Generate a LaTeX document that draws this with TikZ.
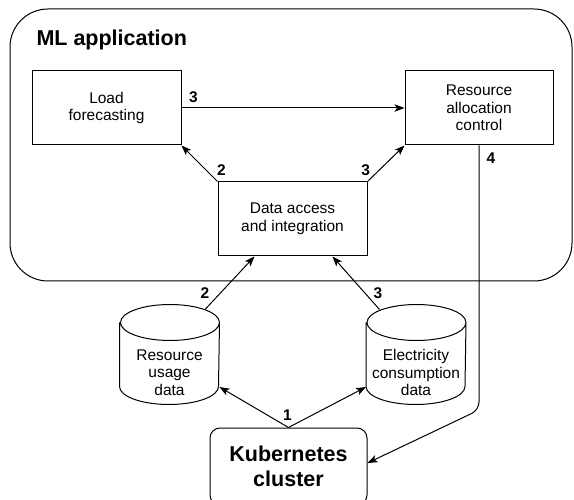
\documentclass[tikz,border=0pt]{standalone}
\usepackage{fontspec}
\setmainfont{Liberation Sans}
\usepackage{tikz}
\usetikzlibrary{arrows.meta,positioning}

\begin{document}
\begin{tikzpicture}[x=1pt, y=1pt, line width=1pt, >={Stealth[length=10pt,width=7.5pt,inset=2.5pt]},
    box/.style={rectangle, draw, align=center, minimum width=149pt, minimum height=74pt, inner sep=2pt, font=\fontsize{15.5}{17.5}\selectfont},
    db/.style={rectangle, align=center, minimum width=99pt, minimum height=63pt, inner sep=0pt, font=\fontsize{15.5}{17.5}\selectfont},
    num/.style={inner sep=0pt, font=\bfseries\fontsize{15.5}{17.5}\selectfont}]
    \useasboundingbox (0,0) rectangle (574,499);

    \node (app) [draw, rounded corners=38pt, minimum width=562pt, minimum height=272pt] at (291,354) {};
    \node (title) [anchor=base west, inner sep=0pt, font=\bfseries\fontsize{21.5}{25}\selectfont] at (36,453) {ML application};
    \node (load) [box] at (106.5,391) {Load \\ forecasting};
    \node (alloc) [box, minimum width=148pt, right=223pt of load] {Resource \\ allocation \\ control};
    \node (data) [box] at (292.5,280) {Data access \\ and integration};
    \node (ruse) [db] at (169.5,126.5) {Resource \\ usage \\ data};
    \node (elec) [db] at (416,126.5) {Electricity \\ consumption \\ data};
    \node (kube) [draw, rounded corners=10pt, minimum width=157pt, minimum height=77pt, align=center, font=\bfseries\fontsize{21.5}{24.5}\selectfont] at (288.5,32.5) {Kubernetes \\ cluster};

    % database outlines
    \foreach \store in {ruse, elec}
        \draw ([yshift=18pt]\store.north west) -- ([yshift=18pt]\store.south west)
            arc[start angle=180, end angle=360, x radius=49.5pt, y radius=18pt]
            -- ([yshift=18pt]\store.north east)
            arc[start angle=0, end angle=180, x radius=49.5pt, y radius=18pt]
            arc[start angle=180, end angle=360, x radius=49.5pt, y radius=18pt];

    \draw[->] (load.east) -- node[num, pos=0, anchor=south west, xshift=7pt, yshift=5pt] {3} (alloc.west);
    \draw[->] (data.north west) -- node[num, pos=0, anchor=south west, xshift=-1pt, yshift=5pt] {2} (load.south east);
    \draw[->] (data.north east) -- node[num, pos=0, anchor=south east, xshift=3pt, yshift=5pt] {3} (alloc.south west);
    \draw[->] ([xshift=35.5pt, yshift=31pt]ruse.north) -- node[num, pos=0, anchor=south, yshift=10pt] {2} ([xshift=37pt]data.south west);
    \draw[->] ([xshift=13.5pt, yshift=31pt]elec.north west) -- node[num, pos=0, anchor=south, xshift=-1.5pt, yshift=10pt] {3} ([xshift=-35pt]data.south east);
    \draw[->] (kube.north) -- node[num, pos=0, anchor=south, xshift=-1pt, yshift=6pt] {1} ([yshift=-14.5pt]ruse.east);
    \draw[->] (kube.north) -- ([yshift=-14.5pt]elec.west);
    \coordinate (bend) at (478,89);
    \draw[->, rounded corners=8pt] (alloc.south) -- node[num, pos=0, anchor=north west, xshift=7pt, yshift=-7pt] {4} (alloc.south |- bend) -- ([yshift=3.5pt]kube.east);
\end{tikzpicture}
\end{document}
